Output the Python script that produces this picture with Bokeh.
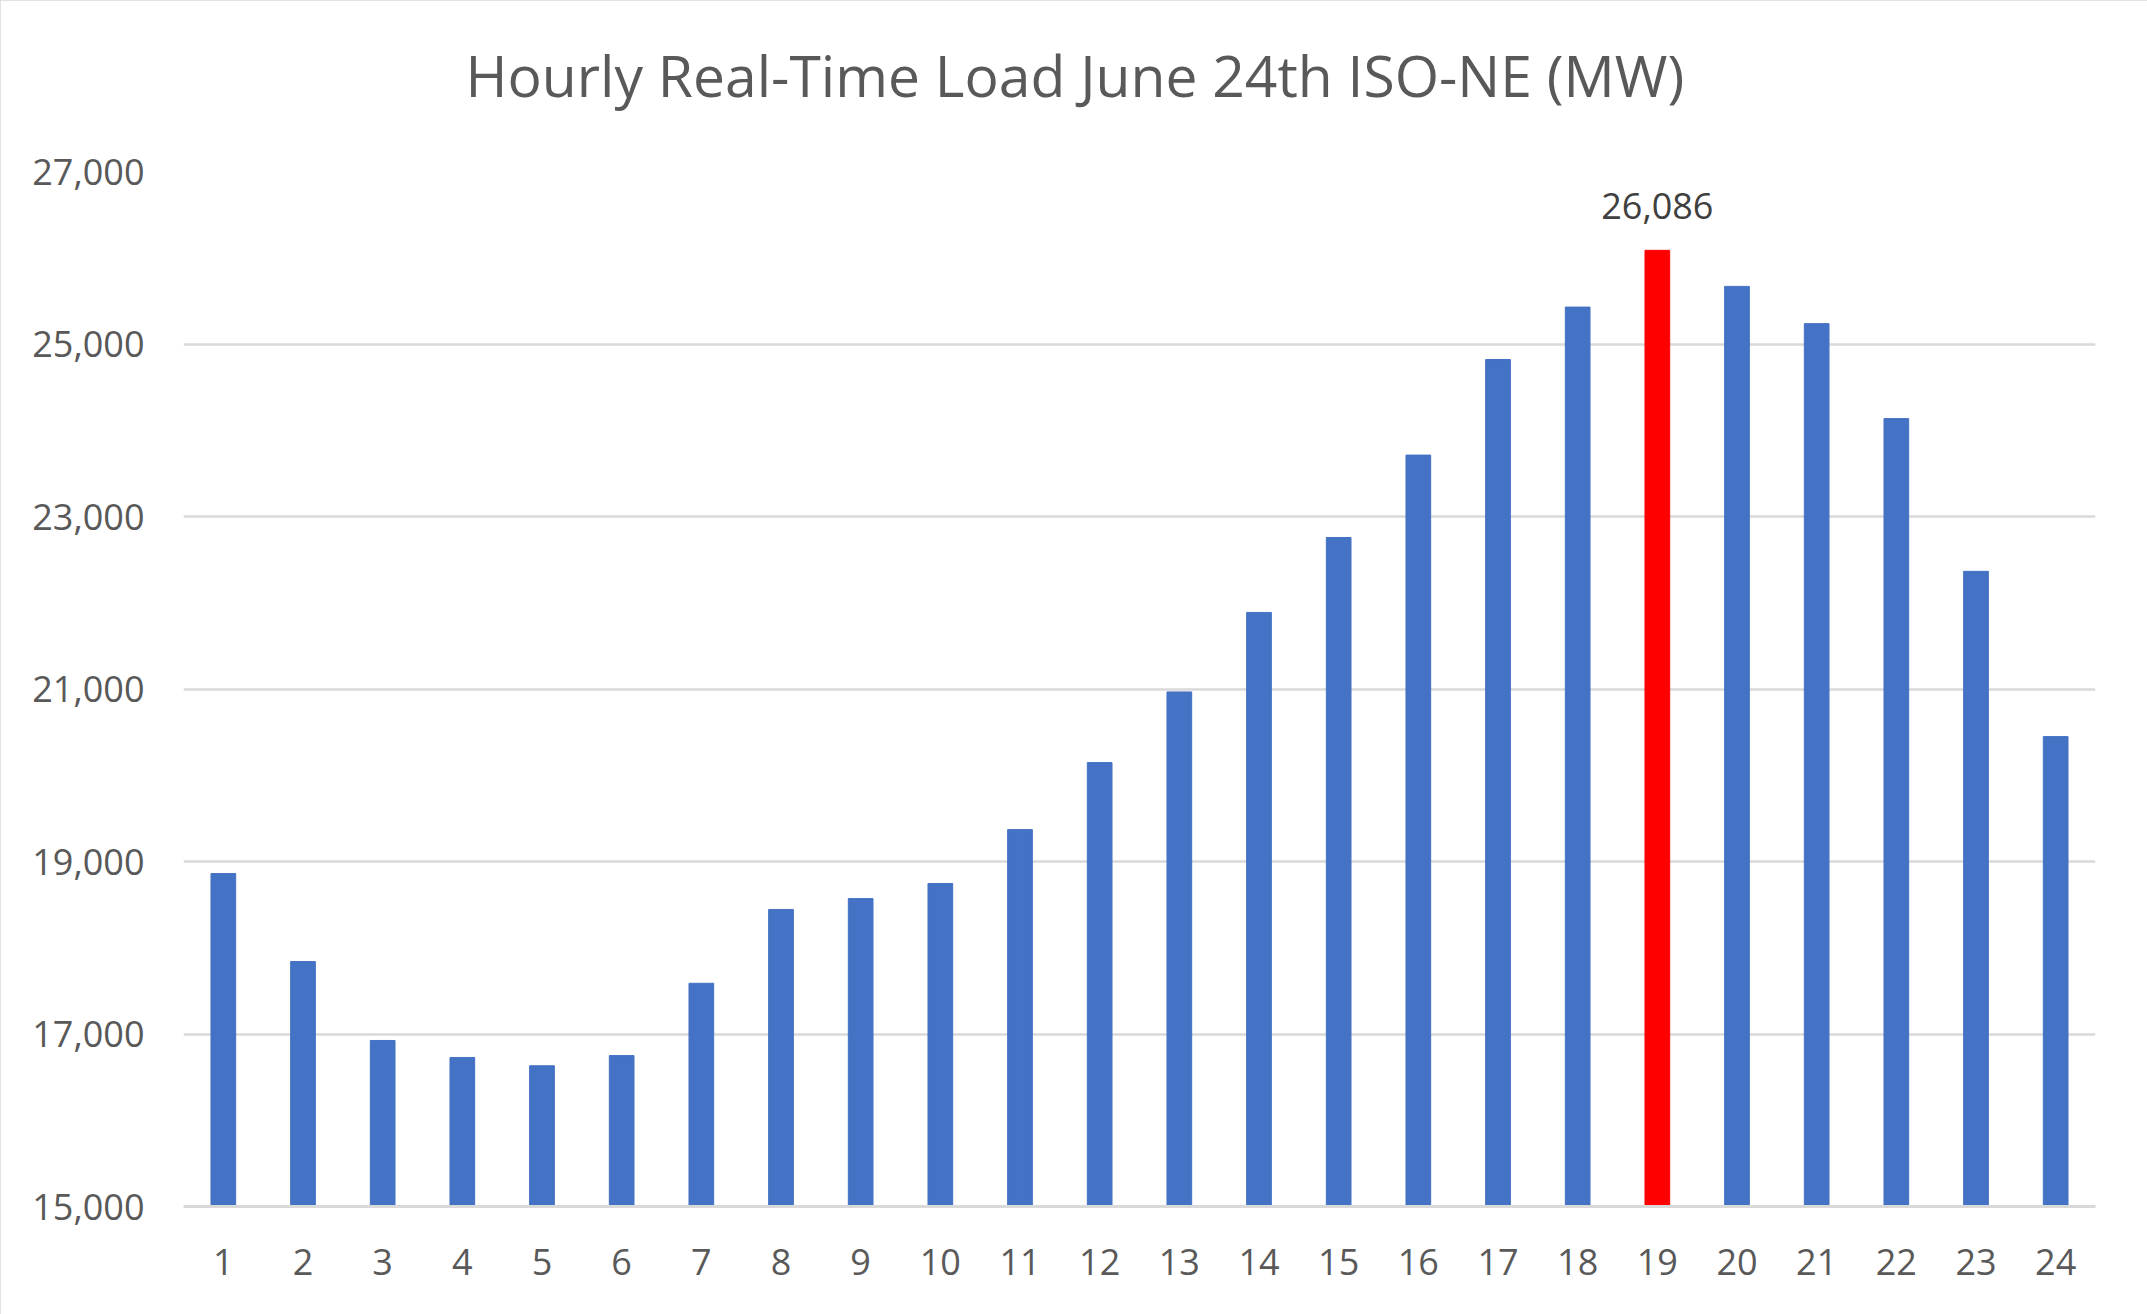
from bokeh.plotting import figure
from bokeh.models import ColumnDataSource, Range1d, FixedTicker, NumeralTickFormatter
from bokeh.core.properties import value
from bokeh.embed import file_html
from bokeh.resources import INLINE

# ---- data ----
hours = [str(h) for h in range(1, 25)]
load_mw = [18860, 17840, 16925, 16728, 16632, 16750, 17588, 18444, 18570, 18745,
           19370, 20147, 20966, 21888, 22756, 23712, 24820, 25428, 26086, 25668,
           25236, 24135, 22364, 20448]
y_ticks = [15000, 17000, 19000, 21000, 23000, 25000, 27000]
title_text = "Hourly Real-Time Load June 24th ISO-NE (MW)"

BLUE = "#4472C4"
RED = "#FF0000"
TXT = "#595959"
GRID = "#D9D9D9"
FONT = "Open Sans"

peak_i = max(range(len(load_mw)), key=lambda i: load_mw[i])
colors = [RED if i == peak_i else BLUE for i in range(len(load_mw))]

src = ColumnDataSource(dict(x=hours, y=load_mw, color=colors))
peak_src = ColumnDataSource(dict(x=[hours[peak_i]], y=[load_mw[peak_i]],
                                 t=[f"{load_mw[peak_i]:,}"]))

p = figure(x_range=hours, y_range=Range1d(y_ticks[0], y_ticks[-1]),
           width=2147, height=1314, output_backend="svg", toolbar_location=None,
           min_border_left=183, min_border_right=52, min_border_top=171, min_border_bottom=108,
           styles={"outline": "3px solid #D9D9D9", "outline-offset": "-3px"})

p.background_fill_color = "white"
p.border_fill_color = "white"
p.outline_line_color = None

# title
p.title.text = title_text
p.title.align = "left"
p.title.offset = 282
p.title.text_font = FONT
p.title.text_font_size = "57px"
p.title.text_font_style = "normal"
p.title.text_color = TXT
try:
    p.title.padding = {"left": 0, "right": 0, "top": 0, "bottom": 58}
    p.title.standoff = 0
except Exception:
    p.title.standoff = 92

p.vbar(x="x", top="y", bottom=y_ticks[0], width=0.31, color="color", source=src)

p.text(x="x", y="y", text="t", source=peak_src, text_align="center", text_baseline="middle",
       y_offset=-44, text_font=value(FONT), text_font_size="36px", text_color="#404040")

# axes
p.xaxis.axis_line_color = GRID
p.xaxis.axis_line_width = 3
p.xaxis.major_tick_line_color = None
p.xaxis.minor_tick_line_color = None
p.xaxis.major_label_text_font = FONT
p.xaxis.major_label_text_font_size = "36px"
p.xaxis.major_label_text_color = TXT
p.xaxis.major_label_standoff = 36

p.yaxis.ticker = FixedTicker(ticks=y_ticks)
p.yaxis.formatter = NumeralTickFormatter(format="0,0")
p.yaxis.axis_line_color = None
p.yaxis.major_tick_line_color = None
p.yaxis.minor_tick_line_color = None
p.yaxis.major_label_text_font = FONT
p.yaxis.major_label_text_font_size = "36px"
p.yaxis.major_label_text_color = TXT
p.yaxis.major_label_standoff = 33

p.xgrid.grid_line_color = None
p.ygrid.grid_line_color = GRID
p.ygrid.grid_line_width = 2.5
p.ygrid.ticker = FixedTicker(ticks=y_ticks)

open("out.html", "w").write(file_html(p, INLINE))
